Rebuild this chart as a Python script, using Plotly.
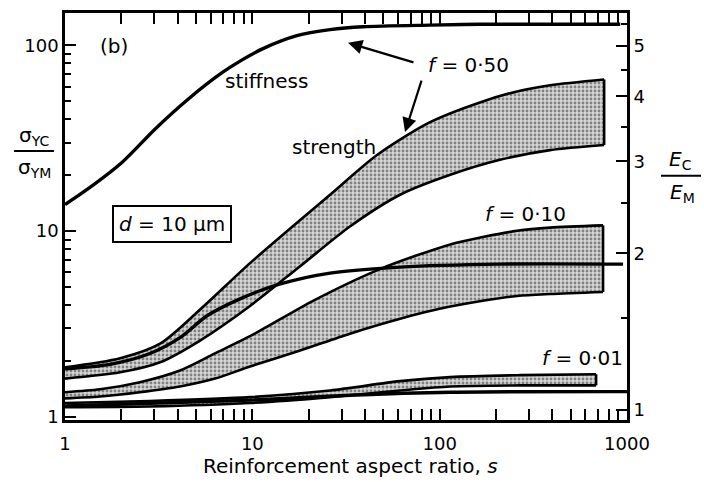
import plotly.graph_objects as go

# ---------------- data ----------------
# stiffness curves, E_C/E_M (right axis)
s_stiff_50 = [1, 1.33, 2.02, 3.02, 4.54, 6.89, 8.82, 11.4, 17.3, 26, 39, 89, 164, 920]
E_stiff_50 = [2.48, 2.66, 2.99, 3.46, 3.95, 4.44, 4.70, 4.94, 5.23, 5.37, 5.44, 5.48, 5.50, 5.50]

s_stiff_10 = [1, 1.74, 2.84, 4.11, 5.73, 8.6, 14.1, 26, 61.5, 210, 953]
E_stiff_10 = [1.20, 1.224, 1.284, 1.377, 1.517, 1.635, 1.746, 1.832, 1.881, 1.906, 1.906]

s_stiff_01 = [1, 9.72, 33.2, 114, 1000]
E_stiff_01 = [1.018, 1.045, 1.068, 1.082, 1.085]

# strength bands, sigma_YC/sigma_YM (left axis)
s_str50_up = [1, 1.97, 3.22, 5.39, 9.72, 26, 46.3, 88.9, 164, 259, 388, 755]
v_str50_up = [1.85, 2.07, 2.48, 3.87, 6.73, 15.7, 25.7, 38.6, 49.3, 56.5, 61.0, 65.5]
s_str50_lo = [1, 1.97, 3.22, 5.26, 9.72, 18, 33.2, 61.5, 114, 210, 388, 755]
v_str50_lo = [1.61, 1.74, 1.97, 2.58, 3.96, 6.48, 10.6, 15.7, 20.1, 24.2, 27.3, 29.1]

s_str10_up = [1, 1.54, 2.51, 4.11, 6.32, 10.3, 21.1, 48, 114, 170, 259, 388, 745]
v_str10_up = [1.36, 1.41, 1.54, 1.78, 2.20, 2.81, 4.22, 6.25, 8.49, 9.3, 10.05, 10.45, 10.75]
s_str10_lo = [1, 1.54, 2.51, 4.11, 6.32, 9.72, 18, 33.2, 61.5, 100, 170, 259, 388, 745]
v_str10_lo = [1.26, 1.29, 1.36, 1.46, 1.61, 1.87, 2.28, 2.81, 3.38, 3.82, 4.22, 4.48, 4.59, 4.71]

s_str01_up = [1, 2.84, 9.72, 26, 61.5, 114, 269, 684]
v_str01_up = [1.19, 1.22, 1.28, 1.39, 1.56, 1.64, 1.68, 1.70]
s_str01_lo = [1, 2.84, 9.72, 26, 61.5, 114, 269, 684]
v_str01_lo = [1.13, 1.14, 1.19, 1.28, 1.39, 1.46, 1.48, 1.48]

# axis ticks
x_ticks = [1, 10, 100, 1000]
x_ticktext = ["1", "10", "100", "1000"]
x_minor = [2, 3, 4, 5, 6, 7, 8, 9, 20, 30, 40, 50, 60, 70, 80, 90, 200, 300, 400, 500, 600, 700, 800, 900]
yl_ticks = [1, 10, 100]
yl_ticktext = ["1", "10", "100"]
yl_minor = [2, 3, 4, 5, 6, 7, 8, 9, 20, 30, 40, 50, 60, 70, 80, 90]
yr_ticks = [1, 2, 3, 4, 5]
yr_ticktext = ["1", "2", "3", "4", "5"]
yr_minor = [1.5, 2.5, 3.5, 4.5, 5.5]

FONT = "DejaVu Sans"

fig = go.Figure()

pattern = dict(shape=".", fgcolor="#2e2e2e", bgcolor="#d6d6d6", size=4, solidity=0.4)
LINE = dict(color="black", width=2.6, shape="spline", smoothing=0.8)


def add_band(s_up, v_up, s_lo, v_lo):
    fig.add_trace(go.Scatter(x=s_lo, y=v_lo, mode="lines", line=LINE,
                             hoverinfo="skip", yaxis="y"))
    fig.add_trace(go.Scatter(x=s_up, y=v_up, mode="lines", line=LINE,
                             fill="tonexty", fillcolor="rgba(0,0,0,0)", fillpattern=pattern,
                             hoverinfo="skip", yaxis="y"))
    fig.add_trace(go.Scatter(x=[s_up[-1], s_lo[-1]], y=[v_up[-1], v_lo[-1]], mode="lines",
                             line=dict(color="black", width=2.6), hoverinfo="skip", yaxis="y"))


add_band(s_str50_up, v_str50_up, s_str50_lo, v_str50_lo)
add_band(s_str10_up, v_str10_up, s_str10_lo, v_str10_lo)
add_band(s_str01_up, v_str01_up, s_str01_lo, v_str01_lo)

for xx, yy in ((s_stiff_50, E_stiff_50), (s_stiff_10, E_stiff_10), (s_stiff_01, E_stiff_01)):
    fig.add_trace(go.Scatter(x=xx, y=yy, mode="lines", yaxis="y2",
                             line=dict(color="black", width=3.4, shape="spline", smoothing=0.8),
                             hoverinfo="skip"))

axis_common = dict(showline=True, linewidth=2.6, linecolor="black", ticks="inside",
                   tickcolor="black", tickwidth=2, ticklen=11, showgrid=False, zeroline=False,
                   tickfont=dict(family=FONT, size=18, color="black"))

fig.update_layout(
    width=704, height=482,
    margin=dict(l=65, r=77, t=10, b=62),
    paper_bgcolor="white", plot_bgcolor="white",
    showlegend=False,
    font=dict(family=FONT, size=18, color="black"),
    xaxis=dict(type="log", range=[0, 3], mirror="allticks",
               tickmode="array", tickvals=x_ticks, ticktext=x_ticktext,
               ticklabelstandoff=6,
               minor=dict(ticks="inside", ticklen=5, tickwidth=1.5, tickcolor="black",
                          tickvals=x_minor, showgrid=False),
               **axis_common),
    yaxis=dict(type="log", range=[-0.016, 2.174], mirror=False,
               tickmode="array", tickvals=yl_ticks, ticktext=yl_ticktext,
               minor=dict(ticks="inside", ticklen=6, tickwidth=1.5, tickcolor="black",
                          tickvals=yl_minor, showgrid=False),
               **axis_common),
    yaxis2=dict(type="log", range=[-0.019, 0.762], overlaying="y", side="right",
                tickmode="array", tickvals=yr_ticks, ticktext=yr_ticktext,
                minor=dict(ticks="inside", ticklen=6, tickwidth=1.5, tickcolor="black",
                           tickvals=yr_minor, showgrid=False),
                **axis_common),
)


def px2paper(px, py):
    return (px - 65) / 562.0, (420 - py) / 410.0


def text_at(px, py, txt, size=20, **kw):
    x, y = px2paper(px, py)
    fig.add_annotation(x=x, y=y, xref="paper", yref="paper", text=txt, showarrow=False,
                       font=dict(family=FONT, size=size, color="black"),
                       xanchor="center", yanchor="middle", **kw)


text_at(114, 43, "(b)")
text_at(266, 78, "stiffness")
text_at(334, 145, "strength")
text_at(468, 62, "<i>f</i> = 0·50")
text_at(525, 212, "<i>f</i> = 0·10")
text_at(582, 358, "<i>f</i> = 0·01")
text_at(172, 223, "<i>d</i> = 10 µm", bordercolor="black", borderwidth=2, borderpad=5)

# axis titles
text_at(350, 466, "Reinforcement aspect ratio, <i>s</i>")
text_at(34, 134, "σ<sub>YC</sub>")
text_at(34, 166, "σ<sub>YM</sub>")
text_at(680, 158, "<i>E</i><sub>C</sub>")
text_at(682, 191, "<i>E</i><sub>M</sub>")

for (x0, x1, yy) in ((14, 54, 149), (661, 701, 174)):
    a0, b0 = px2paper(x0, yy)
    a1, _ = px2paper(x1, yy)
    fig.add_shape(type="line", xref="paper", yref="paper", x0=a0, x1=a1, y0=b0, y1=b0,
                  line=dict(color="black", width=2))

# arrows from the f = 0.50 label
for (hx, hy, tx, ty) in ((348, 40, 415, 60), (405, 130, 422, 77)):
    x, y = px2paper(hx, hy)
    fig.add_annotation(x=x, y=y, xref="paper", yref="paper", text="", showarrow=True,
                       ax=tx - hx, ay=ty - hy, arrowhead=2, arrowsize=1.3, arrowwidth=2.2,
                       arrowcolor="black")

fig.write_html("out.html", config={"displayModeBar": False},
               post_script="document.body.style.margin='0';document.body.style.padding='0';")
